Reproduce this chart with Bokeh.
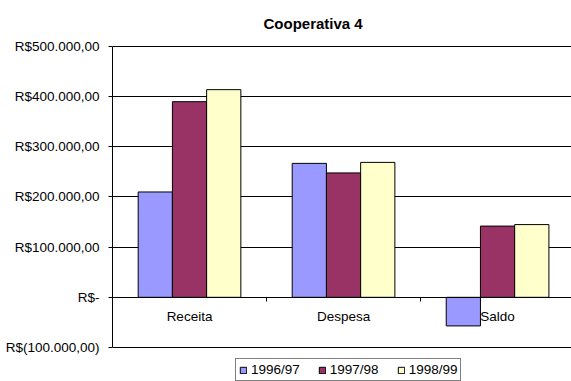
from bokeh.plotting import figure
from bokeh.models import (Range1d, LinearAxis, FixedTicker, Grid, Legend,
                          LegendItem, Title)
from bokeh.embed import file_html
from bokeh.resources import INLINE

# Chart data
categories = ["Receita", "Despesa", "Saldo"]
series_names = ["1996/97", "1997/98", "1998/99"]
v_1996_97 = [210000, 267000, -57000]
v_1997_98 = [390000, 248000, 142000]
v_1998_99 = [414000, 269000, 145000]
series_colors = ["#9999FF", "#993366", "#FFFFCC"]

y_ticks = [-100000, 0, 100000, 200000, 300000, 400000, 500000]
y_tick_labels = ["R$(100.000,00)", "R$-", "R$100.000,00", "R$200.000,00",
                 "R$300.000,00", "R$400.000,00", "R$500.000,00"]

FONT = "Liberation Sans"

# the frame runs to the bottom of the canvas so the legend can sit inside it;
# axis line and grid stop at the last tick
p = figure(width=571, height=381,
           x_range=Range1d(0, 2.98), y_range=Range1d(-167800, 502000),
           x_axis_type=None, y_axis_type=None,
           output_backend="svg", toolbar_location=None,
           min_border_left=112, min_border_right=0,
           min_border_top=45, min_border_bottom=0)
p.outline_line_color = None
p.background_fill_color = "white"
p.border_fill_color = "white"

p.title = Title(text="Cooperativa 4", align="left", offset=151, standoff=23,
                vertical_align="top",
                text_font=FONT, text_font_size="15px", text_font_style="bold",
                text_color="black")

# value axis
yaxis = LinearAxis(ticker=FixedTicker(ticks=y_ticks),
                   major_label_overrides=dict(zip(y_ticks, y_tick_labels)),
                   bounds=(y_ticks[0], y_ticks[-1]))
yaxis.axis_line_color = "black"
yaxis.major_tick_line_color = "black"
yaxis.major_tick_out = 4
yaxis.major_tick_in = 0
yaxis.minor_tick_line_color = None
yaxis.major_label_standoff = 9
yaxis.major_label_text_font = FONT
yaxis.major_label_text_font_size = "13.5px"
yaxis.major_label_text_color = "black"
p.add_layout(yaxis, "left")

p.add_layout(Grid(dimension=1, ticker=yaxis.ticker,
                  grid_line_color="black", grid_line_width=1))

# bars: three series dodged inside each category slot
bar_w = 1 / 4.5
renderers = []
for j, (name, vals, col) in enumerate(zip(series_names,
                                          [v_1996_97, v_1997_98, v_1998_99],
                                          series_colors)):
    xs = [i + 0.5 + (j - 1) * bar_w for i in range(len(categories))]
    r = p.vbar(x=xs, top=vals, bottom=0, width=bar_w,
               fill_color=col, line_color="black", line_width=1)
    renderers.append(r)

# category axis crossing at zero
xaxis = LinearAxis(fixed_location=0,
                   ticker=FixedTicker(ticks=[i + 0.5 for i in range(len(categories))],
                                      minor_ticks=list(range(len(categories) + 1))),
                   major_label_overrides={i + 0.5: c for i, c in enumerate(categories)})
xaxis.axis_line_color = "black"
xaxis.major_tick_line_color = None
xaxis.major_tick_out = 0
xaxis.major_tick_in = 0
xaxis.minor_tick_line_color = "black"
xaxis.minor_tick_out = 4
xaxis.minor_tick_in = 0
xaxis.major_label_standoff = 8
xaxis.major_label_text_font = FONT
xaxis.major_label_text_font_size = "13.5px"
xaxis.major_label_text_color = "black"
p.add_layout(xaxis, "below")

legend = Legend(items=[LegendItem(label=n, renderers=[r])
                       for n, r in zip(series_names, renderers)],
                orientation="horizontal", location=(123, 0),
                border_line_color="black", border_line_width=1,
                padding=3, spacing=18, margin=0,
                glyph_width=8, glyph_height=8, label_standoff=4,
                label_height=10, label_width=10,
                label_text_font=FONT, label_text_font_size="13.5px",
                label_text_color="black", background_fill_alpha=1)
p.add_layout(legend, "center")

open("out.html", "w").write(file_html(p, INLINE))
